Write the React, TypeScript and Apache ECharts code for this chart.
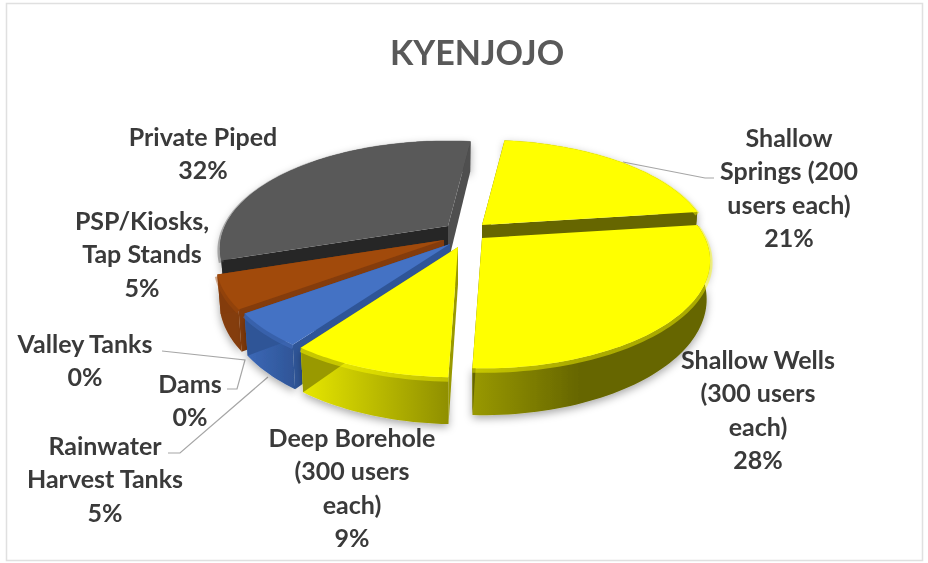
import React, { useEffect, useRef } from "react";
import * as echarts from "echarts";

const TITLE = "KYENJOJO";
const categories = [
  "Shallow Springs (200 users each)",
  "Shallow Wells (300 users each)",
  "Deep Borehole (300 users each)",
  "Rainwater Harvest Tanks",
  "Dams",
  "Valley Tanks",
  "PSP/Kiosks, Tap Stands",
  "Private Piped",
];
const shares = [21, 27.6, 9.4, 5, 0, 0, 5, 32];
const labelLines = [
  ["Shallow", "Springs (200", "users each)"],
  ["Shallow Wells", "(300 users", "each)"],
  ["Deep Borehole", "(300 users", "each)"],
  ["Rainwater", "Harvest Tanks"],
  ["Dams"],
  ["Valley Tanks"],
  ["PSP/Kiosks,", "Tap Stands"],
  ["Private Piped"],
];

// drawing configuration (not data)
const FIRST_ANGLE = 7;
const RX = 223, RY = 103, PERSP = 0.21, DEPTH = 37;
const paintOrder = [7, 0, 6, 3, 2, 1];
const looks: any = {
  0: { apex: [482, 225], top: "#ffff00", wall: ["#666600", "#666600"], startWall: "#666600", endWall: "#666600" },
  1: { apex: [482, 238], top: "#ffff00", wall: ["#999900", "#666600"], startWall: "#666600", endWall: "#666600", wallStop: 0.45 },
  2: { apex: [458, 247], top: "#ffff00", wall: ["#e8e800", "#8f8f00"], startWall: "#999900", endWall: "#999900" },
  3: { apex: [450, 244], top: "#4472c4", wall: ["#3c69b8", "#2f5597"], startWall: "#2f5597", endWall: "#2f5597" },
  6: { apex: [444, 240], top: "#a14a0b", wall: ["#843c0c", "#843c0c"], startWall: "#843c0c", endWall: "#843c0c" },
  7: { apex: [448, 226], top: "#595959", wall: ["#404040", "#404040"], startWall: "#262626", endWall: "#4f4f4f" },
};
const labelPlaces: any = {
  0: [789, 137], 1: [758, 359], 2: [352, 437], 3: [105, 445],
  4: [190, 383], 5: [85, 343], 6: [142, 220], 7: [203, 136],
};
const leaders = [
  [[623, 162], [705, 178], [714, 178]],
  [[162, 351], [245, 360], [237, 389], [227, 389]],
  [[168, 453], [180, 453], [268, 377]],
];

const starts: number[] = [];
shares.reduce((acc, v, i) => {
  starts[i] = acc;
  return acc + v * 3.6;
}, FIRST_ANGLE);

function project(deg: number, apex: number[], lower = false) {
  const t = (deg * Math.PI) / 180;
  const x = Math.sin(t), z = -Math.cos(t);
  const w = 1 - PERSP * z;
  const f = lower ? 0.985 : 1;
  return [apex[0] + (f * RX * x) / w, apex[1] + (RY * z) / w + (lower ? DEPTH / w : 0)];
}
function lowerApex(apex: number[]) {
  return [apex[0], apex[1] + DEPTH];
}
function arc(a0: number, a1: number, apex: number[], lower = false) {
  const pts: number[][] = [];
  const n = Math.max(4, Math.ceil((a1 - a0) / 1.5));
  for (let i = 0; i <= n; i++) pts.push(project(a0 + ((a1 - a0) * i) / n, apex, lower));
  return pts;
}

const rows = paintOrder.map((i) => ({
  name: categories[i],
  value: [shares[i], starts[i], i],
}));

function renderItem(_params: any, api: any) {
  const value = api.value(0);
  const start = api.value(1);
  const idx = api.value(2);
  if (!value) return null;
  const end = start + value * 3.6;
  const look = looks[idx];
  const apex = look.apex;
  const topArc = arc(start, end, apex);
  const lowArc = arc(start, end, apex, true);
  const poly = (points: number[][], fill: any, extra: any = {}) => ({
    type: "polygon",
    silent: true,
    shape: { points },
    style: { fill, stroke: "none", ...extra },
  });
  const mid = look.wallStop ?? 1;
  const wallFill = new echarts.graphic.LinearGradient(0, 0, 1, 0, [
    { offset: 0, color: look.wall[0] },
    { offset: mid, color: look.wall[1] },
    { offset: 1, color: look.wall[1] },
  ]);
  const children: any[] = [
    poly(
      [...topArc, ...lowArc.slice().reverse()],
      wallFill,
      { shadowColor: "rgba(0,0,0,0.35)", shadowBlur: 9, shadowOffsetY: 3 },
    ),
    poly([apex, project(start, apex), project(start, apex, true), lowerApex(apex)], look.startWall),
    poly([apex, project(end, apex), project(end, apex, true), lowerApex(apex)], look.endWall),
    {
      type: "polyline",
      silent: true,
      shape: { points: topArc.map((p) => [p[0], p[1] + 2]) },
      style: { fill: "none", stroke: look.top, opacity: 0.45, lineWidth: 5 },
    },
    poly([apex, ...topArc], look.top),
  ];
  return { type: "group", children };
}

export default function App() {
  const ref = useRef<HTMLDivElement>(null);
  useEffect(() => {
    if (!ref.current) return;
    const chart = echarts.init(ref.current, undefined, { renderer: "svg" });
    const font = "Lato, sans-serif";
    const texts = shares.map((v, i) => ({
      type: "text",
      silent: true,
      x: labelPlaces[i][0],
      y: labelPlaces[i][1] - 17,
      style: {
        text: [...labelLines[i], `${Math.round(v)}%`].join("\n"),
        fill: "#3a3a3a",
        font: `bold 25px ${font}`,
        lineHeight: 33.4,
        align: "center",
        verticalAlign: "top",
      },
    }));
    const lines = leaders.map((points) => ({
      type: "polyline",
      silent: true,
      shape: { points },
      style: { fill: "none", stroke: "#a6a6a6", lineWidth: 1.2 },
    }));
    chart.setOption({
      animation: false,
      backgroundColor: "#ffffff",
      title: {
        text: TITLE,
        left: 472,
        top: 29,
        textAlign: "center",
        textStyle: { color: "#595959", fontFamily: font, fontWeight: "bold", fontSize: 34 },
      },
      graphic: [
        {
          type: "rect",
          silent: true,
          z: -1,
          shape: { x: 6.5, y: 3.5, width: 916, height: 557 },
          style: { fill: "none", stroke: "#e0e0e0", lineWidth: 1.5 },
        },
        ...lines,
        ...texts,
      ],
      series: [
        {
          type: "custom",
          coordinateSystem: "none",
          renderItem,
          data: rows,
          silent: true,
        },
      ],
    });
    return () => chart.dispose();
  }, []);
  return (
    <div
      ref={ref}
      style={{ position: "absolute", left: 0, top: 0, width: 928, height: 563, background: "#fff", filter: "blur(0.5px)" }}
    />
  );
}
